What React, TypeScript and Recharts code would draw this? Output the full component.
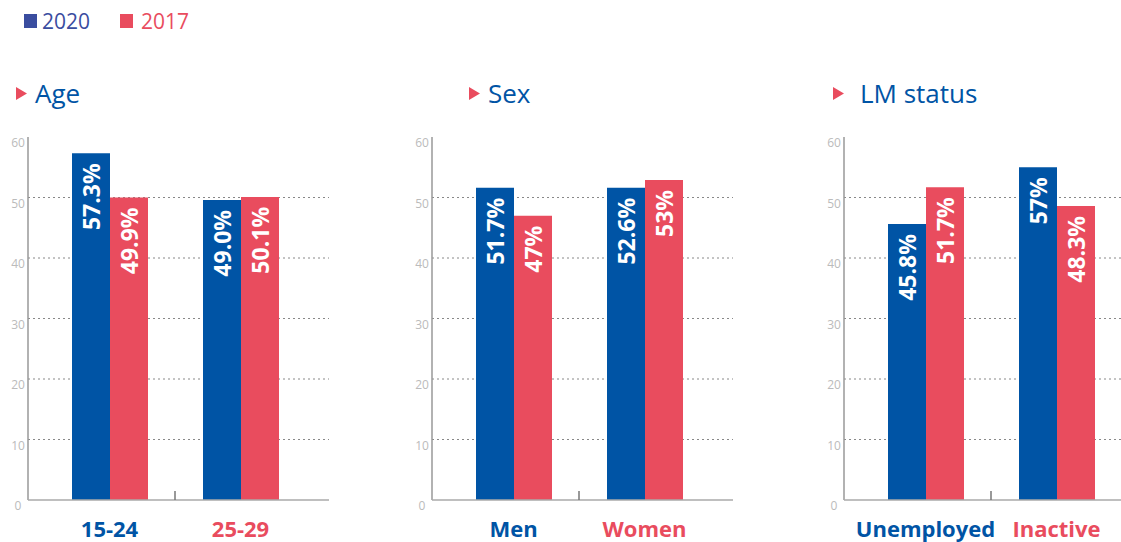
import { BarChart, Bar, XAxis, YAxis, CartesianGrid, LabelList } from 'recharts'

const BLUE = '#0054a5'
const RED = '#e94c5e'
const FONT = '"Open Sans", "Noto Sans", sans-serif'

const SERIES = ['2020', '2017']
const Y_TICKS = [0, 10, 20, 30, 40, 50, 60]
const GRID_VALUES = [10, 20, 30, 40, 50]

const AGE_CATS = ['15-24', '25-29']
const AGE_2020 = [57.3, 49.6]
const AGE_2017 = [50.0, 50.1]
const AGE_LABELS_2020 = ['57.3%', '49.0%']
const AGE_LABELS_2017 = ['49.9%', '50.1%']

const SEX_CATS = ['Men', 'Women']
const SEX_2020 = [51.6, 51.6]
const SEX_2017 = [47.0, 52.9]
const SEX_LABELS_2020 = ['51.7%', '52.6%']
const SEX_LABELS_2017 = ['47%', '53%']

const LM_CATS = ['Unemployed', 'Inactive']
const LM_2020 = [45.6, 55.0]
const LM_2017 = [51.7, 48.6]
const LM_LABELS_2020 = ['45.8%', '57%']
const LM_LABELS_2017 = ['51.7%', '48.3%']

const PLOT_TOP = 137
const PLOT_BOTTOM = 500
const AXIS_W = 28
const BAND = 131

const build = (cats: string[], a: number[], b: number[], la: string[], lb: string[]) =>
  cats.map((name, i) => ({ name, v2020: a[i], v2017: b[i], l2020: la[i], l2017: lb[i] }))

const panels = [
  { title: 'Age', axisX: 28, triX: 16, textX: 35, data: build(AGE_CATS, AGE_2020, AGE_2017, AGE_LABELS_2020, AGE_LABELS_2017) },
  { title: 'Sex', axisX: 432, triX: 469, textX: 488, data: build(SEX_CATS, SEX_2020, SEX_2017, SEX_LABELS_2020, SEX_LABELS_2017) },
  { title: 'LM status', axisX: 844, triX: 833, textX: 860, data: build(LM_CATS, LM_2020, LM_2017, LM_LABELS_2020, LM_LABELS_2017) },
]

function BarLabel(props: any) {
  const { x, y, width, value } = props
  const cx = x + width / 2
  const cy = y + 10
  return (
    <text
      x={cx}
      y={cy}
      transform={`rotate(-90, ${cx}, ${cy})`}
      textAnchor="end"
      dominantBaseline="central"
      fill="#fff"
      fontSize={23}
      fontWeight={700}
      fontFamily={FONT}
    >
      {value}
    </text>
  )
}

function YTick(props: any) {
  const { x, y, payload } = props
  return (
    <text x={x - 10} y={y + 10} textAnchor="middle" fill="#bbb" fontSize={12} fontFamily={FONT}>
      {payload.value}
    </text>
  )
}

function XTick(props: any) {
  const { x, payload, index } = props
  return (
    <g>
      {index === 0 && (
        <line x1={x + BAND / 2} x2={x + BAND / 2} y1={PLOT_BOTTOM - 9} y2={PLOT_BOTTOM} stroke="#777" strokeWidth={1.5} />
      )}
      <text x={x} y={537} textAnchor="middle" fill={index === 0 ? BLUE : RED} fontSize={22} fontWeight={700} fontFamily={FONT}>
        {payload.value}
      </text>
    </g>
  )
}

function Panel({ data, axisX }: { data: any[]; axisX: number }) {
  return (
    <div style={{ position: 'absolute', left: axisX - AXIS_W, top: 0 }}>
      <BarChart
        width={AXIS_W + 301}
        height={542}
        data={data}
        barSize={38}
        barGap={0}
        margin={{ top: PLOT_TOP, right: 0, bottom: 0, left: 0 }}
      >
        <CartesianGrid horizontal vertical={false} horizontalValues={GRID_VALUES} stroke="#888" strokeDasharray="2 3" />
        <YAxis
          width={AXIS_W}
          domain={[0, 60]}
          ticks={Y_TICKS}
          tickSize={0}
          tickMargin={0}
          tickLine={false}
          axisLine={{ stroke: '#999', strokeWidth: 1.5 }}
          tick={<YTick />}
        />
        <XAxis
          dataKey="name"
          height={42}
          padding={{ left: 16, right: 23 }}
          tickLine={false}
          tickSize={0}
          axisLine={{ stroke: '#aaa', strokeWidth: 1.5 }}
          tick={<XTick />}
          interval={0}
        />
        <Bar dataKey="v2020" fill={BLUE} isAnimationActive={false}>
          <LabelList dataKey="l2020" content={<BarLabel />} />
        </Bar>
        <Bar dataKey="v2017" fill={RED} isAnimationActive={false}>
          <LabelList dataKey="l2017" content={<BarLabel />} />
        </Bar>
      </BarChart>
    </div>
  )
}

export default function App() {
  return (
    <div style={{ position: 'absolute', left: 0, top: 0, width: 1121, height: 542, overflow: 'hidden', background: '#fff' }}>
      {panels.map((p) => (
        <Panel key={p.title} data={p.data} axisX={p.axisX} />
      ))}
      <svg width={1121} height={542} style={{ position: 'absolute', left: 0, top: 0, pointerEvents: 'none' }}>
        <rect x={24} y={14} width={13} height={14} fill="#3a4d9f" />
        <text x={42} y={29} fontSize={21} fill="#3a4d9f" fontFamily={FONT}>{SERIES[0]}</text>
        <rect x={120} y={14} width={13} height={14} fill={RED} />
        <text x={141} y={29} fontSize={21} fill={RED} fontFamily={FONT}>{SERIES[1]}</text>
        {panels.map((p) => (
          <g key={p.title}>
            <polygon points={`${p.triX},87 ${p.triX},100 ${p.triX + 11},93.5`} fill={RED} />
            <text x={p.textX} y={103} fontSize={26} fill={BLUE} fontFamily={FONT}>{p.title}</text>
          </g>
        ))}
      </svg>
    </div>
  )
}
